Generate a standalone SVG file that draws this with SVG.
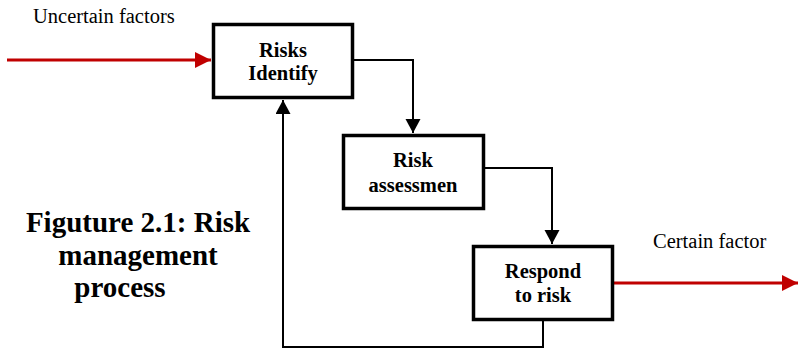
<svg xmlns="http://www.w3.org/2000/svg" width="799" height="349" viewBox="0 0 799 349">
<style>
.box{fill:#fff;stroke:#000;stroke-width:3.5}
.bt{font-family:"Liberation Serif","Times New Roman",serif;font-weight:bold;font-size:20.5px;text-anchor:middle;fill:#000}
.lbl{font-family:"Liberation Serif","Times New Roman",serif;font-size:20.5px;fill:#000}
.cap{font-family:"Liberation Serif","Times New Roman",serif;font-weight:bold;font-size:29px;text-anchor:middle;fill:#000}
.blk{fill:none;stroke:#000;stroke-width:2}
.red{fill:none;stroke:#c00000;stroke-width:3}
</style>
<defs>
<marker id="ab" markerUnits="userSpaceOnUse" markerWidth="16" markerHeight="16" refX="14" refY="7.5" orient="auto"><path d="M0,0 L14,7.5 L0,15 z" fill="#000"/></marker>
<marker id="ar" markerUnits="userSpaceOnUse" markerWidth="18" markerHeight="18" refX="16" refY="8" orient="auto"><path d="M0,0 L16,8 L0,16 z" fill="#c00000"/></marker>
</defs>
<g id="connectors">
<path class="red" d="M7,60 H211" marker-end="url(#ar)"/>
<path class="blk" d="M354,60 H413 V133" marker-end="url(#ab)"/>
<path class="blk" d="M485,168 H552 V244" marker-end="url(#ab)"/>
<path class="red" d="M614,283 H798" marker-end="url(#ar)"/>
<path class="blk" d="M543,321 V347 H283 V100" marker-end="url(#ab)"/>
</g>
<text class="lbl" x="33" y="23">Uncertain factors</text>
<text class="lbl" x="653" y="248">Certain factor</text>
<g id="identify">
<rect class="box" x="213.5" y="24.5" width="139" height="73"/>
<text class="bt" x="283" y="57">Risks</text>
<text class="bt" x="283" y="80">Identify</text>
</g>
<g id="assessment">
<rect class="box" x="343.5" y="135.5" width="140" height="73"/>
<text class="bt" x="413" y="167">Risk</text>
<text class="bt" x="413" y="192">assessmen</text>
</g>
<g id="respond">
<rect class="box" x="473.5" y="246.5" width="139" height="73"/>
<text class="bt" x="543" y="278">Respond</text>
<text class="bt" x="543" y="302">to risk</text>
</g>
<g id="caption">
<text class="cap" x="138" y="232">Figuture 2.1: Risk</text>
<text class="cap" x="138" y="265">management</text>
<text class="cap" x="120" y="297">process</text>
</g>
</svg>
